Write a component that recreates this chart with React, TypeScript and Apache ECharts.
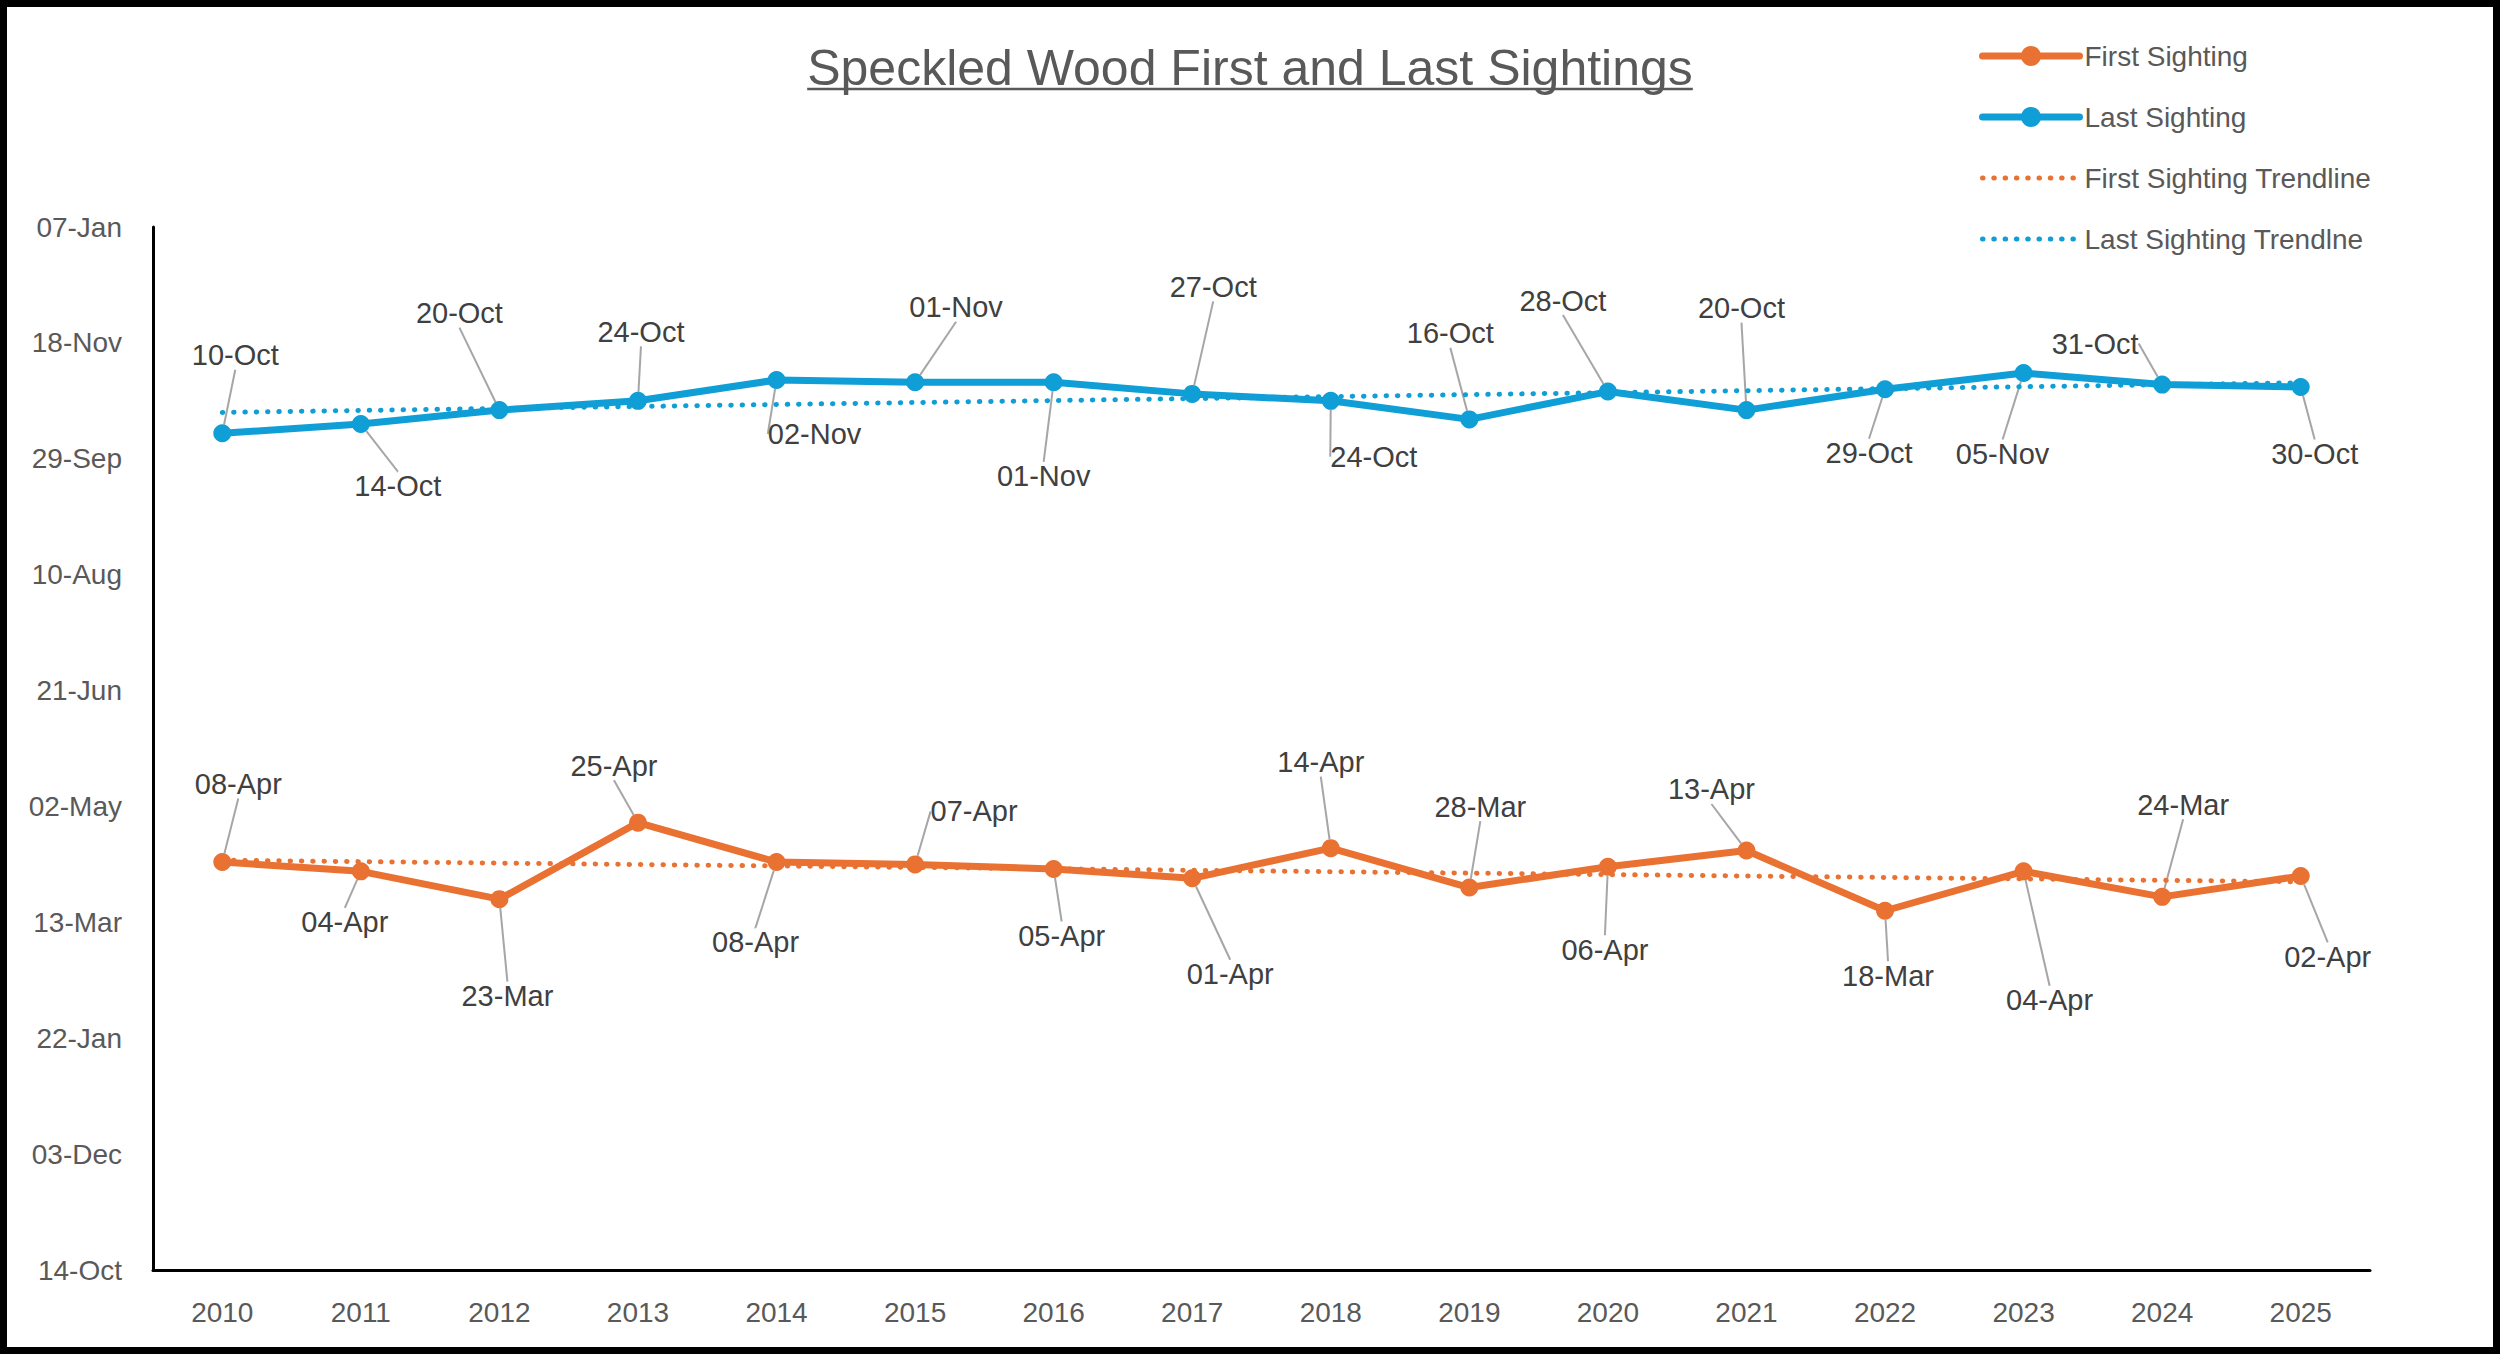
import React, { useEffect, useRef } from "react";
import * as echarts from "echarts";

const years = ["2010", "2011", "2012", "2013", "2014", "2015", "2016", "2017", "2018", "2019", "2020", "2021", "2022", "2023", "2024", "2025"];
const firstSightings = ["08-Apr", "04-Apr", "23-Mar", "25-Apr", "08-Apr", "07-Apr", "05-Apr", "01-Apr", "14-Apr", "28-Mar", "06-Apr", "13-Apr", "18-Mar", "04-Apr", "24-Mar", "02-Apr"];
const lastSightings = ["10-Oct", "14-Oct", "20-Oct", "24-Oct", "02-Nov", "01-Nov", "01-Nov", "27-Oct", "24-Oct", "16-Oct", "28-Oct", "20-Oct", "29-Oct", "05-Nov", "31-Oct", "30-Oct"];
// trendline end values (days after 14-Oct of the axis start), at 2010 and 2025
const firstTrendEnds = [176.8, 167.5];
const lastTrendEnds = [370.0, 382.8];
const yTickInterval = 50;
const yMax = 450;

// label offsets (px) from each point, style only
const firstLabelOffsets = [[16, -78], [-16, 51], [8, 97], [-24, -57], [-21, 80], [59, -53], [8, 67], [38, 96], [-10, -86], [11, -81], [-3, 83], [-35, -61], [3, 65], [26, 129], [21, -92], [27, 81]];
const lastLabelOffsets = [[13, -78], [37, 62], [-40, -97], [3, -69], [38, 54], [41, -75], [-10, 94], [21, -107], [43, 56], [-19, -86], [-45, -91], [-5, -102], [-16, 64], [-21, 81], [-67, -41], [14, 67]];

const MONTHS = ["Jan", "Feb", "Mar", "Apr", "May", "Jun", "Jul", "Aug", "Sep", "Oct", "Nov", "Dec"];
const ORIGIN = Date.UTC(2021, 9, 14);
const DAY = 86400000;
const toAxis = (s: string) => {
  const [d, m] = s.split("-");
  return (Date.UTC(2022, MONTHS.indexOf(m), parseInt(d, 10)) - ORIGIN) / DAY;
};
const fmt = (v: number) => {
  const dt = new Date(ORIGIN + Math.round(v) * DAY);
  const d = dt.getUTCDate();
  return (d < 10 ? "0" + d : "" + d) + "-" + MONTHS[dt.getUTCMonth()];
};

const FONT = "'Liberation Sans', Arial, sans-serif";
const ORANGE = "#E97132";
const BLUE = "#0F9ED5";
const TITLE = "Speckled Wood First and Last Sightings";

export default function App() {
  const ref = useRef<HTMLDivElement>(null);
  useEffect(() => {
    if (!ref.current) return;
    const chart = echarts.init(ref.current, undefined, { renderer: "svg" });
    let tw = 886;
    try {
      const ctx = document.createElement("canvas").getContext("2d");
      if (ctx) {
        ctx.font = "50px " + FONT;
        tw = ctx.measureText(TITLE).width;
      }
    } catch (e) {}

    const mainSeries = (name: string, dates: string[], color: string, offs: number[][]) => ({
      name,
      type: "line",
      data: dates.map(toAxis),
      symbol: "circle",
      symbolSize: 18,
      itemStyle: { color },
      lineStyle: { color, width: 7, cap: "round", join: "round" },
      label: {
        show: true,
        position: "inside",
        formatter: (p: any) => dates[p.dataIndex],
        color: "#404040",
        fontSize: 29,
        fontFamily: FONT,
        textBorderWidth: 0,
      },
      labelLayout: (p: any) => ({ dx: offs[p.dataIndex][0], dy: offs[p.dataIndex][1] }),
      labelLine: { show: true, lineStyle: { color: "#A6A6A6", width: 2 } },
      z: 2,
    });

    const trendSeries = (name: string, ends: number[], color: string) => ({
      name,
      type: "line",
      data: [[0, ends[0]], [years.length - 1, ends[1]]],
      symbol: "none",
      silent: true,
      itemStyle: { color },
      lineStyle: { color, width: 5, type: [0.5, 10.8], cap: "round" },
      z: 3,
    });

    chart.setOption({
      animation: false,
      backgroundColor: "#ffffff",
      textStyle: { fontFamily: FONT },
      title: {
        text: TITLE,
        left: "center",
        top: 38,
        textStyle: { fontSize: 50, color: "#595959", fontWeight: "normal", fontFamily: FONT },
      },
      legend: {
        orient: "vertical",
        left: 1974,
        top: 37,
        itemWidth: 97,
        itemHeight: 25,
        itemGap: 33,
        lineStyle: { width: "inherit" },
        textStyle: { fontSize: 28, color: "#595959", fontFamily: FONT, lineHeight: 28 },
        data: [
          { name: "First Sighting" },
          { name: "Last Sighting" },
          { name: "First Sighting Trendline", itemStyle: { opacity: 0 } },
          { name: "Last Sighting Trendlne", itemStyle: { opacity: 0 } },
        ],
      },
      grid: { left: 153, right: 130, top: 227, bottom: 84, containLabel: false },
      xAxis: {
        type: "category",
        data: years,
        boundaryGap: true,
        axisTick: { show: false },
        axisLine: { show: true, lineStyle: { color: "#000000", width: 3 } },
        axisLabel: { color: "#595959", fontSize: 28, margin: 28, fontFamily: FONT },
        splitLine: { show: false },
      },
      yAxis: {
        type: "value",
        min: 0,
        max: yMax,
        interval: yTickInterval,
        axisTick: { show: false },
        axisLine: { show: true, lineStyle: { color: "#000000", width: 3 } },
        axisLabel: { color: "#595959", fontSize: 28, margin: 31, fontFamily: FONT, formatter: (v: number) => fmt(v) },
        splitLine: { show: false },
      },
      graphic: [
        {
          type: "line",
          shape: { x1: 1250 - tw / 2, y1: 89, x2: 1250 + tw / 2, y2: 89 },
          style: { stroke: "#595959", lineWidth: 2.5 },
          silent: true,
        },
        {
          type: "rect",
          shape: { x: 3.5, y: 3.5, width: 2493, height: 1347 },
          style: { fill: "none", stroke: "#000000", lineWidth: 7 },
          silent: true,
        },
      ],
      series: [
        mainSeries("First Sighting", firstSightings, ORANGE, firstLabelOffsets),
        mainSeries("Last Sighting", lastSightings, BLUE, lastLabelOffsets),
        trendSeries("First Sighting Trendline", firstTrendEnds, ORANGE),
        trendSeries("Last Sighting Trendlne", lastTrendEnds, BLUE),
      ],
    });
    return () => chart.dispose();
  }, []);
  return <div ref={ref} style={{ position: "fixed", left: 0, top: 0, width: 2500, height: 1354 }} />;
}
